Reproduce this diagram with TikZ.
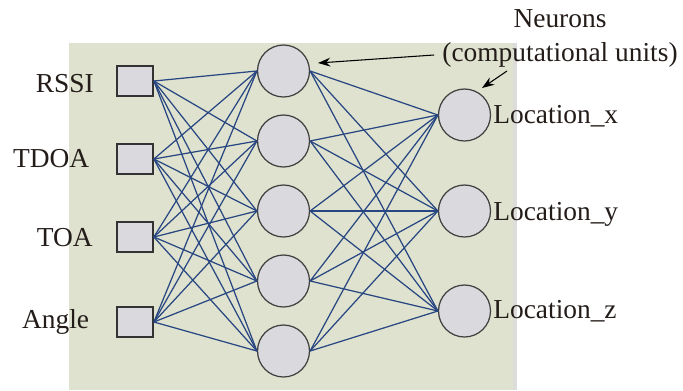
\documentclass[tikz,border=0pt]{standalone}
\usepackage{fontspec}
\setmainfont{Liberation Serif}
\usetikzlibrary{arrows.meta}
\definecolor{bgc}{RGB}{222,226,206}
\definecolor{edgec}{RGB}{220,221,218}
\definecolor{nodefill}{RGB}{218,218,222}
\definecolor{linkc}{RGB}{40,70,130}
\definecolor{txtc}{RGB}{35,28,25}
\begin{document}
\begin{tikzpicture}[x=0.02cm,y=-0.02cm, font=\fontsize{15.6}{18}\selectfont,
 inbox/.style={draw=black!80, fill=nodefill, line width=1pt, minimum width=0.72cm, minimum height=0.6cm, inner sep=0pt},
 neuron/.style={circle, draw=black!75, fill=nodefill, line width=0.7pt, minimum size=1.04cm, inner sep=0pt},
 link/.style={draw=linkc, line width=0.7pt},
 lbl/.style={inner sep=0pt, text=txtc},
 pointer/.style={-{Stealth[length=7pt,width=5pt]}, line width=0.6pt, draw=black}]
\useasboundingbox (0,0) rectangle (683,390);
\fill[bgc] (69,43) rectangle (517,390);
\fill[edgec] (513,43) rectangle (517,390);
% input squares
\foreach \i/\y in {1/81,2/159,3/237,4/322} \node[inbox] (i\i) at (135,\y) {};
% hidden neurons
\foreach \h/\y in {1/71,2/141,3/211,4/281,5/351} \node[neuron] (h\h) at (283.5,\y) {};
% output neurons
\foreach \o/\y in {1/115,2/211,3/311} \node[neuron] (o\o) at (464.5,\y) {};
% links
\foreach \i in {1,...,4} \foreach \h in {1,...,5} \draw[link] (i\i.east) -- (h\h.west);
\foreach \h in {1,...,5} \foreach \o in {1,...,3} \draw[link] (h\h.east) -- (o\o.west);
% input labels
\node[lbl, anchor=base east] (lrssi) at (94,92) {RSSI};
\node[lbl, anchor=base east] (ltdoa) at (89.5,167) {TDOA};
\node[lbl, anchor=base east] (ltoa) at (93,246) {TOA};
\node[lbl, anchor=base east] (langle) at (89.5,328) {Angle};
% output labels
\node[lbl, anchor=base west] (lx) at (493,123) {Location\_x};
\node[lbl, anchor=base west] (ly) at (493,220) {Location\_y};
\node[lbl, anchor=base west] (lz) at (493,318) {Location\_z};
% annotation
\node[lbl, anchor=base] (nt1) at (560,27) {Neurons};
\node[lbl, anchor=base] (nt2) at (560,61) {(computational units)};
\coordinate (a1s) at (434,55);
\coordinate (a1e) at (318,63);
\coordinate (a2s) at (507,71);
\coordinate (a2e) at (482,88);
\draw[pointer] (a1s) -- (a1e);
\draw[pointer] (a2s) -- (a2e);
\end{tikzpicture}
\end{document}
